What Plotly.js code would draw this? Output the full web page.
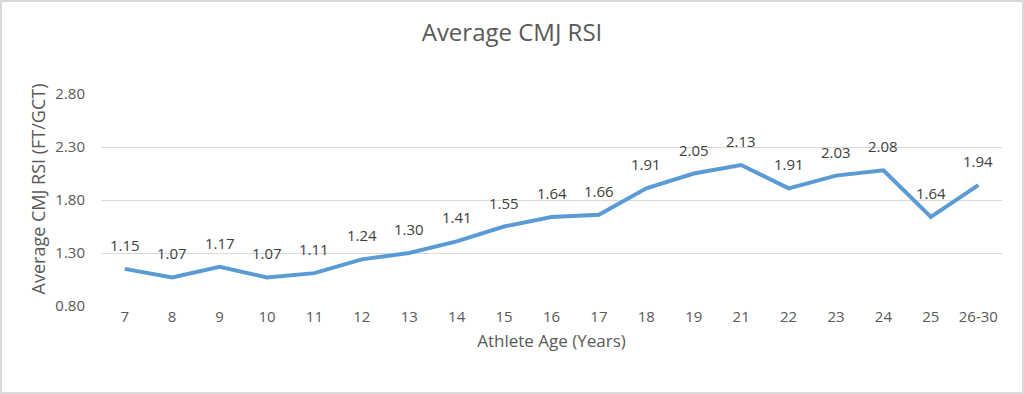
<!DOCTYPE html>
<html><head><meta charset="utf-8">
<script src="https://cdn.plot.ly/plotly-3.0.1.min.js"></script>
<style>html,body{margin:0;padding:0;background:#fff}#c{width:1024px;height:394px;box-sizing:border-box;border:2px solid #d9d9d9}</style>
</head><body><div id="c"></div>
<script>
const ages = ["7","8","9","10","11","12","13","14","15","16","17","18","19","21","22","23","24","25","26-30"];
const rsi = [1.15,1.07,1.17,1.07,1.11,1.24,1.30,1.41,1.55,1.64,1.66,1.91,2.05,2.13,1.91,2.03,2.08,1.64,1.94];
const yTicks = [0.80,1.30,1.80,2.30,2.80];
const font = "Open Sans, Liberation Sans, sans-serif";
const labels = ages.map((a, i) => ({
  x: i, y: rsi[i], xref: 'x', yref: 'y', text: rsi[i].toFixed(2), showarrow: false,
  yshift: 24, font: {family: font, size: 15, color: '#404040'}
}));
labels.push({
  x: 0, xref: 'paper', xshift: -63, y: 0.55, yref: 'paper', yanchor: 'middle', xanchor: 'center',
  text: 'Average CMJ RSI (FT/GCT)', textangle: -90, showarrow: false,
  font: {family: font, size: 18, color: '#595959'}
});
Plotly.newPlot('c', [{
  x: ages, y: rsi, type: 'scatter', mode: 'lines',
  line: {color: '#5b9bd5', width: 4, shape: 'linear'},
  hoverinfo: 'none'
}], {
  width: 1020, height: 390,
  margin: {l: 99, r: 20, t: 92, b: 86},
  paper_bgcolor: '#fff', plot_bgcolor: '#fff',
  showlegend: false,
  annotations: labels,
  title: {text: 'Average CMJ RSI', x: 0.5, xanchor: 'center', y: 0.922, yanchor: 'middle',
          font: {family: font, size: 24, color: '#595959'}},
  xaxis: {type: 'category', range: [-0.5, 18.5], showgrid: false, zeroline: false,
          showline: false, ticks: '', tickfont: {family: font, size: 15, color: '#595959'},
          title: {text: 'Athlete Age (Years)', font: {family: font, size: 17, color: '#595959'}, standoff: 10}},
  yaxis: {range: [0.80, 2.80], tickvals: yTicks, ticktext: yTicks.map(v => v.toFixed(2)),
          showgrid: true, gridcolor: '#d9d9d9', gridwidth: 1, zeroline: false, showline: false,
          ticks: 'outside', ticklen: 12, tickcolor: 'rgba(0,0,0,0)', tickfont: {family: font, size: 15, color: '#595959'}}
}, {staticPlot: true});
</script></body></html>
